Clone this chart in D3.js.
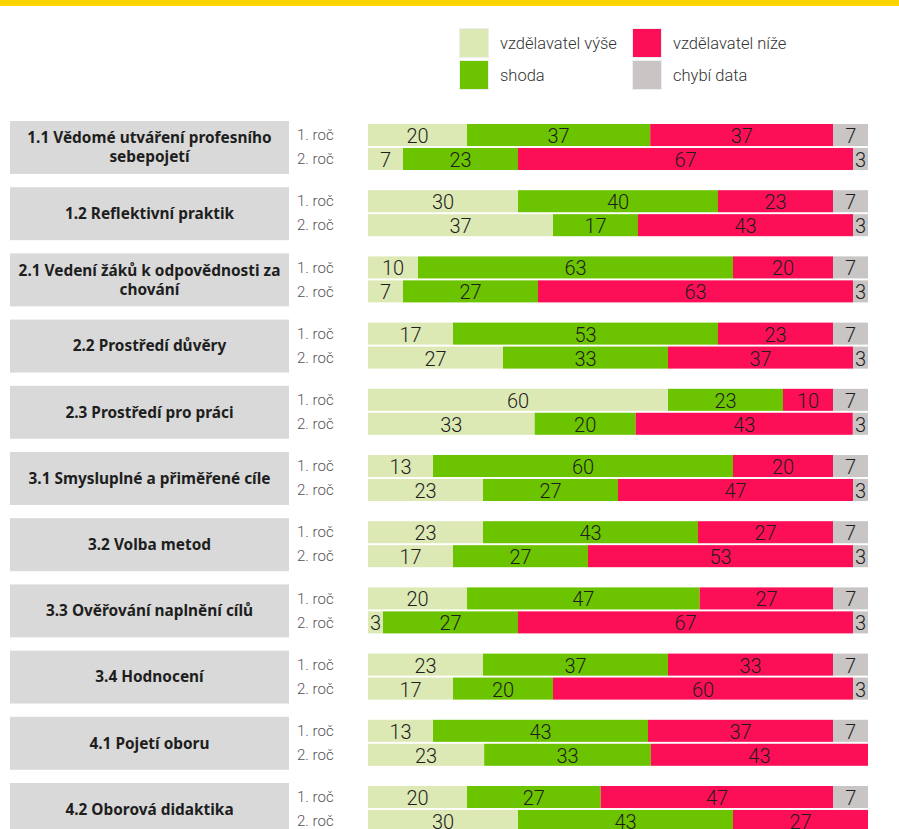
<!DOCTYPE html>
<html>
<head>
<meta charset="utf-8">
<script src="https://cdn.jsdelivr.net/npm/d3@7"></script>
<style>
  body { margin: 0; background: #fff; overflow: hidden; }
  svg { display: block; }
</style>
</head>
<body>
<div id="chart"></div>
<script>
// oblasti (kategorie)
const categories = [
  "1.1 Vědomé utváření profesního|sebepojetí",
  "1.2 Reflektivní praktik",
  "2.1 Vedení žáků k odpovědnosti za|chování",
  "2.2 Prostředí důvěry",
  "2.3 Prostředí pro práci",
  "3.1 Smysluplné a přiměřené cíle",
  "3.2 Volba metod",
  "3.3 Ověřování naplnění cílů",
  "3.4 Hodnocení",
  "4.1 Pojetí oboru",
  "4.2 Oborová didaktika"
];
const years = ["1. roč", "2. roč"];
const seriesNames = ["vzdělavatel výše", "shoda", "vzdělavatel níže", "chybí data"];
const seriesColors = ["#dde9b5", "#6cc400", "#fd0f57", "#c9c5c4"];

// procenta, [výše, shoda, níže, chybí]
const year1 = [
  [20, 37, 37, 7],
  [30, 40, 23, 7],
  [10, 63, 20, 7],
  [17, 53, 23, 7],
  [60, 23, 10, 7],
  [13, 60, 20, 7],
  [23, 43, 27, 7],
  [20, 47, 27, 7],
  [23, 37, 33, 7],
  [13, 43, 37, 7],
  [20, 27, 47, 7]
];
const year2 = [
  [7, 23, 67, 3],
  [37, 17, 43, 3],
  [7, 27, 63, 3],
  [27, 33, 37, 3],
  [33, 20, 43, 3],
  [23, 27, 47, 3],
  [17, 27, 53, 3],
  [3, 27, 67, 3],
  [17, 20, 60, 3],
  [23, 33, 43, 0],
  [30, 43, 27, 0]
];

const width = 899, height = 829;
const svg = d3.select("#chart").append("svg")
  .attr("width", width)
  .attr("height", height);

svg.append("rect")
  .attr("x", 0).attr("y", 0)
  .attr("width", width).attr("height", 6)
  .attr("fill", "#ffd400");

// legend: výše, shoda | níže, chybí
let legend = svg.selectAll(".legend")
  .data(seriesNames)
  .enter()
  .append("g")
  .attr("class", "legend")
  .attr("transform", function (d, i) {
    let col = (i === 2 || i === 3) ? 1 : 0;
    let row = (i === 1 || i === 3) ? 1 : 0;
    return `translate(${col ? 632 : 459}, ${row ? 60 : 28})`;
  });
legend.append("rect")
  .attr("x", 0.5).attr("y", 0.5)
  .attr("width", 29).attr("height", 29)
  .attr("fill", function (d, i) { return seriesColors[i]; })
  .attr("stroke", "#eeeeee")
  .attr("stroke-width", 1);
legend.append("text")
  .attr("x", 41).attr("y", 15)
  .attr("dy", "0.35em")
  .attr("font-family", "Roboto, sans-serif")
  .attr("font-weight", 300)
  .attr("font-size", 16.5)
  .attr("fill", "#333")
  .text(function (d) { return d; });

// layout scales
let y = d3.scaleBand()
  .domain(categories)
  .range([121, 121 + 66.2 * (categories.length - 0.2)])
  .paddingInner(0.2)
  .paddingOuter(0);

let yRow = d3.scaleBand()
  .domain(years)
  .range([3, 49])
  .paddingInner(0.08);

let group = svg.selectAll(".group")
  .data(categories)
  .enter()
  .append("g")
  .attr("class", "group")
  .attr("transform", function (d) { return `translate(0, ${y(d)})`; });

group.append("rect")
  .attr("x", 10).attr("y", 0)
  .attr("width", 279)
  .attr("height", y.bandwidth())
  .attr("fill", "#d9d9d9");

group.each(function (d) {
  let lines = d.split("|");
  let g = d3.select(this);
  let lh = 19;
  let t = g.append("text")
    .attr("x", 149.5)
    .attr("y", y.bandwidth() / 2 - (lines.length - 1) * lh / 2)
    .attr("text-anchor", "middle")
    .attr("font-family", "'Noto Sans', sans-serif")
    .attr("font-weight", 700)
    .attr("font-size", 15.4)
    .attr("fill", "#1e1e1e");
  lines.forEach(function (line, i) {
    t.append("tspan")
      .attr("x", 149.5)
      .attr("dy", i === 0 ? "0.35em" : lh)
      .text(line);
  });
});

let x = d3.scaleLinear().range([368, 868]);

group.each(function (cat, ci) {
  let g = d3.select(this);
  [year1[ci], year2[ci]].forEach(function (vals, ri) {
    let yy = yRow(years[ri]);
    let row = g.append("g").attr("transform", `translate(0, ${yy})`);

    row.append("text")
      .attr("x", 297)
      .attr("y", yRow.bandwidth() / 2)
      .attr("dy", "0.35em")
      .attr("font-family", "Roboto, sans-serif")
      .attr("font-weight", 300)
      .attr("font-size", 15)
      .attr("fill", "#555")
      .text(years[ri]);

    let rowX = x.copy().domain([0, d3.sum(vals)]);
    let stacked = d3.cumsum(vals);
    let segs = vals.map(function (v, i) {
      return { v: v, i: i, x0: stacked[i] - v, x1: stacked[i] };
    }).filter(function (s) { return s.v > 0; });

    row.selectAll("rect")
      .data(segs)
      .enter()
      .append("rect")
      .attr("x", function (s) { return rowX(s.x0); })
      .attr("y", 0)
      .attr("width", function (s) { return rowX(s.x1) - rowX(s.x0); })
      .attr("height", yRow.bandwidth())
      .attr("fill", function (s) { return seriesColors[s.i]; });

    row.selectAll(".val")
      .data(segs)
      .enter()
      .append("text")
      .attr("class", "val")
      .attr("x", function (s) { return (rowX(s.x0) + rowX(s.x1)) / 2; })
      .attr("y", yRow.bandwidth() / 2 + 1)
      .attr("dy", "0.35em")
      .attr("text-anchor", "middle")
      .attr("font-family", "Roboto, sans-serif")
      .attr("font-weight", 300)
      .attr("font-size", 20)
      .attr("fill", "#1e1e1e")
      .text(function (s) { return s.v; });
  });
});
</script>
</body>
</html>
